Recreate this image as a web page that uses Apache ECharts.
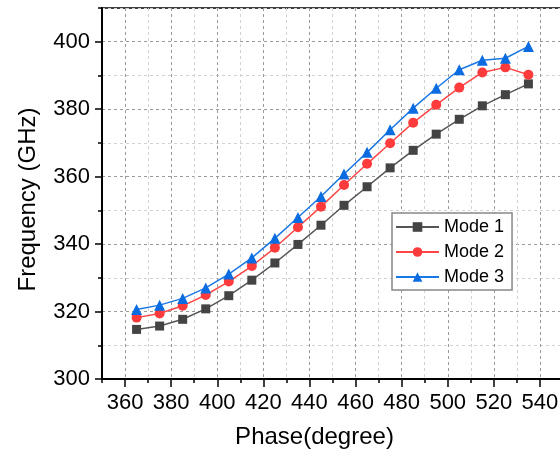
<!DOCTYPE html>
<html>
<head>
<meta charset="utf-8">
<script src="https://cdn.jsdelivr.net/npm/echarts@6/dist/echarts.min.js"></script>
<style>
html,body{margin:0;padding:0;background:#fff;}
#chart{width:560px;height:456px;}
</style>
</head>
<body>
<div id="chart"></div>
<script>
const phase = [365,375,385,395,405,415,425,435,445,455,465,475,485,495,505,515,525,535];
const mode1 = [314.7,315.7,317.7,320.8,324.7,329.3,334.4,339.9,345.6,351.5,357.0,362.6,367.8,372.6,377.0,381.0,384.3,387.5];
const mode2 = [318.2,319.4,321.7,324.9,328.9,333.5,338.9,345.0,351.1,357.5,363.8,369.9,376.0,381.3,386.4,390.9,392.4,390.2];
const mode3 = [320.6,321.9,323.9,327.0,331.1,335.9,341.7,347.9,354.1,360.8,367.2,373.9,380.3,386.2,391.7,394.5,395.1,398.6];
const seriesNames = ['Mode 1','Mode 2','Mode 3'];
const xMajorTicks = [360,380,400,420,440,460,480,500,520,540];
const yMajorTicks = [300,320,340,360,380,400];

const FONT = '"Liberation Sans", Arial, sans-serif';
const chart = echarts.init(document.getElementById('chart'), null, {renderer:'canvas'});

function pts(vals){ return phase.map((x,i)=>[x, vals[i]]); }

const option = {
  animation: false,
  backgroundColor: '#fff',
  grid: {left:102, top:8, width:461, height:371, containLabel:false, outerBoundsMode:'none',
         show:true, borderColor:'#000', borderWidth:1.5, backgroundColor:'transparent'},
  legend: {
    orient:'vertical', left:392, top:213,
    borderColor:'#888', borderWidth:1.5, backgroundColor:'#fff',
    padding:[5,8,4,3], itemWidth:43, itemHeight:12, itemGap:7,
    textStyle:{fontSize:18, color:'#000', fontFamily:FONT},
    data: seriesNames
  },
  xAxis: [
    {type:'value', min:350, max:550, interval:10, position:'bottom',
     axisLine:{onZero:false, lineStyle:{color:'#000', width:2}},
     axisTick:{length:4, lineStyle:{color:'#000', width:1.5}},
     axisLabel:{show:false},
     splitLine:{show:true, lineStyle:{color:['#d2d2d2','#9a9a9a'], type:[3,3], width:1}}
    },
    {type:'value', min:350, max:550, position:'bottom',
     axisLine:{show:false, onZero:false},
     axisTick:{show:true, length:8, customValues:xMajorTicks, lineStyle:{color:'#000', width:1.5}},
     axisLabel:{customValues:xMajorTicks, fontSize:22, color:'#000', margin:13, fontFamily:FONT},
     splitLine:{show:false},
     name:'Phase(degree)', nameLocation:'middle', nameGap:46,
     nameTextStyle:{fontSize:24, color:'#000', fontFamily:FONT, padding:[0,36,0,0]}
    }
  ],
  yAxis: [
    {type:'value', min:300, max:410, interval:10, position:'left',
     axisLine:{onZero:false, lineStyle:{color:'#000', width:2}},
     axisTick:{length:4, lineStyle:{color:'#000', width:1.5}},
     axisLabel:{show:false},
     splitLine:{show:true, lineStyle:{color:['#9a9a9a','#d2d2d2'], type:[3,3], width:1}}
    },
    {type:'value', min:300, max:410, position:'left',
     axisLine:{show:false, onZero:false},
     axisTick:{show:true, length:7, customValues:yMajorTicks, lineStyle:{color:'#000', width:1.5}},
     axisLabel:{customValues:yMajorTicks, fontSize:22, color:'#000', margin:12, fontFamily:FONT},
     splitLine:{show:false},
     name:'Frequency (GHz)', nameLocation:'middle', nameGap:62,
     nameTextStyle:{fontSize:24, color:'#000', fontFamily:FONT, padding:[0,12,0,0]}
    }
  ],
  series: [
    {name:seriesNames[0], type:'line', xAxisIndex:0, yAxisIndex:0, data:pts(mode1),
     symbol:'rect', symbolSize:9, color:'#444', lineStyle:{width:1.5, color:'#555'}, itemStyle:{color:'#444'}},
    {name:seriesNames[1], type:'line', xAxisIndex:0, yAxisIndex:0, data:pts(mode2),
     symbol:'circle', symbolSize:10, color:'#ff4040', lineStyle:{width:1.5, color:'#ff4545'}, itemStyle:{color:'#ff3b3b'}},
    {name:seriesNames[2], type:'line', xAxisIndex:0, yAxisIndex:0, data:pts(mode3),
     symbol:'triangle', symbolSize:11, color:'#1a73e0', lineStyle:{width:1.5, color:'#1a78e6'}, itemStyle:{color:'#0a6ce0'}}
  ]
};
chart.setOption(option);
</script>
</body>
</html>
